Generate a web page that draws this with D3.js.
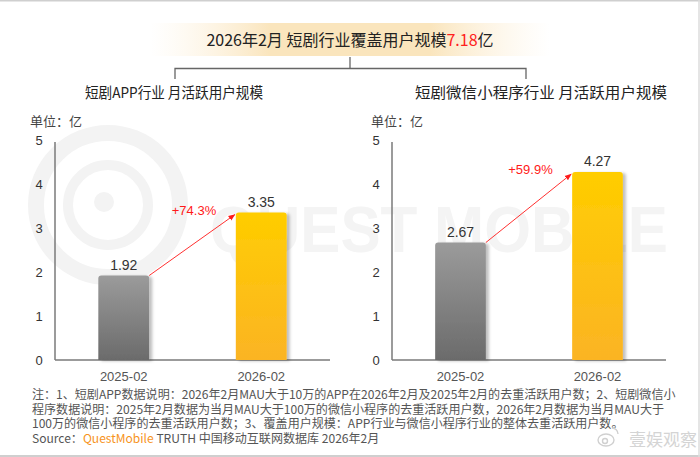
<!DOCTYPE html>
<html>
<head>
<meta charset="utf-8">
<script src="https://cdn.jsdelivr.net/npm/d3@7"></script>
<style>
  body { margin: 0; background: #fff; }
  svg { display: block; font-family: "Noto Sans CJK SC", "Liberation Sans", sans-serif; }
  .num { font-family: "Liberation Sans", Arial, sans-serif; }
</style>
</head>
<body>
<svg width="700" height="457"></svg>
<script>
// data
var categories = ["2025-02", "2026-02"];
var appValues = [1.92, 3.35];
var miniValues = [2.67, 4.27];
var growthLabels = ["+74.3%", "+59.9%"];
var yTicks = [0, 1, 2, 3, 4, 5];
var panelTitles = ["短剧APP行业 月活跃用户规模", "短剧微信小程序行业 月活跃用户规模"];
var footnotes = [
  "注：1、短剧APP数据说明：2026年2月MAU大于10万的APP在2026年2月及2025年2月的去重活跃用户数；2、短剧微信小",
  "程序数据说明：2025年2月数据为当月MAU大于100万的微信小程序的去重活跃用户数，2026年2月数据为当月MAU大于",
  "100万的微信小程序的去重活跃用户数；3、覆盖用户规模：APP行业与微信小程序行业的整体去重活跃用户数。"
];

var svg = d3.select("svg"),
  width = +svg.attr("width"),
  height = +svg.attr("height");

var defs = svg.append("defs");

// banner gradient
var bg = defs.append("linearGradient").attr("id", "banner");
bg.append("stop").attr("offset", "0%").attr("stop-color", "#fdf1dc").attr("stop-opacity", 0);
bg.append("stop").attr("offset", "30%").attr("stop-color", "#fae5bd").attr("stop-opacity", 1);
bg.append("stop").attr("offset", "70%").attr("stop-color", "#fae5bd").attr("stop-opacity", 1);
bg.append("stop").attr("offset", "100%").attr("stop-color", "#fdf1dc").attr("stop-opacity", 0);

var gGray = defs.append("linearGradient").attr("id", "grayBar")
  .attr("x1", 0).attr("y1", 0).attr("x2", 0).attr("y2", 1);
gGray.append("stop").attr("offset", "0%").attr("stop-color", "#9b9b9b");
gGray.append("stop").attr("offset", "100%").attr("stop-color", "#6b6b6b");

var gGold = defs.append("linearGradient").attr("id", "goldBar")
  .attr("x1", 0).attr("y1", 0).attr("x2", 0).attr("y2", 1);
gGold.append("stop").attr("offset", "0%").attr("stop-color", "#ffcd00");
gGold.append("stop").attr("offset", "100%").attr("stop-color", "#fbb424");

var shadow = defs.append("filter").attr("id", "shadow")
  .attr("x", "-20%").attr("y", "-20%").attr("width", "150%").attr("height", "140%");
shadow.append("feDropShadow").attr("dx", 3).attr("dy", 1).attr("stdDeviation", 1.5)
  .attr("flood-color", "#000").attr("flood-opacity", 0.25);

defs.append("marker")
  .attr("id", "arrow")
  .attr("viewBox", "0 0 10 10")
  .attr("refX", 9).attr("refY", 5)
  .attr("markerWidth", 7).attr("markerHeight", 7)
  .attr("orient", "auto")
  .append("path").attr("d", "M0,1 L10,5 L0,9 Z").attr("fill", "#ff1a1a");

// frame lines
svg.append("line").attr("x1", 0).attr("x2", width).attr("y1", 0.5).attr("y2", 0.5)
  .attr("stroke", "#cfcfcf").attr("stroke-width", 2);
svg.append("line").attr("x1", 0).attr("x2", width).attr("y1", 456).attr("y2", 456)
  .attr("stroke", "#cfcfcf").attr("stroke-width", 2);
svg.append("line").attr("x1", 699).attr("x2", 699).attr("y1", 0).attr("y2", height)
  .attr("stroke", "#dcdcdc").attr("stroke-width", 1.5);

// background watermark
var wm = svg.append("g").attr("fill", "none").attr("stroke", "#f3f3f3");
wm.append("circle").attr("cx", 108).attr("cy", 205).attr("r", 72).attr("stroke-width", 16);
wm.append("circle").attr("cx", 108).attr("cy", 205).attr("r", 40).attr("stroke-width", 10);
wm.append("circle").attr("cx", 104).attr("cy", 202).attr("r", 10).attr("fill", "#f3f3f3").attr("stroke", "none");
svg.append("text").attr("x", 210).attr("y", 252)
  .attr("class", "num")
  .attr("font-size", 64).attr("font-weight", "bold")
  .attr("fill", "#f4f4f4")
  .attr("textLength", 458).attr("lengthAdjust", "spacingAndGlyphs")
  .text("QUEST MOBILE");

// title banner
svg.append("rect").attr("x", 150).attr("y", 23).attr("width", 400).attr("height", 33)
  .attr("fill", "url(#banner)");
var title = svg.append("text").attr("x", 350).attr("y", 46)
  .attr("text-anchor", "middle").attr("font-size", 16).attr("fill", "#222");
title.append("tspan").text("2026年2月 短剧行业覆盖用户规模");
title.append("tspan").attr("fill", "#ff2020").text("7.18");
title.append("tspan").text("亿");

// bracket
var bracket = svg.append("g").attr("stroke", "#666").attr("stroke-width", 1.3).attr("fill", "none");
bracket.append("path").attr("d", "M175,79 V68.5 H526 V79");
bracket.append("path").attr("d", "M350,57 V68.5");

// panels
var panels = [
  { values: appValues, x0: 55, x1: 330, title: panelTitles[0], titleX: 85, titleW: 178, unitX: 30, tickX: 39, growth: growthLabels[0] },
  { values: miniValues, x0: 392, x1: 666, title: panelTitles[1], titleX: 415, titleW: 252, unitX: 371, tickX: 376, growth: growthLabels[1] }
];

var y = d3.scaleLinear().domain([0, 5]).range([360, 140]);

panels.forEach(function (p) {
  var g = svg.append("g");

  g.append("text").attr("x", p.titleX).attr("y", 98)
    .attr("font-size", 15).attr("fill", "#222")
    .attr("textLength", p.titleW).attr("lengthAdjust", "spacingAndGlyphs")
    .text(p.title);

  g.append("text").attr("x", p.unitX).attr("y", 126)
    .attr("font-size", 13).attr("fill", "#444")
    .text("单位：亿");

  var x = d3.scaleBand()
    .domain(categories)
    .range([p.x0, p.x1])
    .paddingInner(0.63)
    .paddingOuter(0.315);

  // y tick labels
  g.selectAll(".ytick")
    .data(yTicks)
    .enter().append("text")
    .attr("class", "num")
    .attr("x", p.tickX)
    .attr("y", function (d) { return y(d) + 5; })
    .attr("text-anchor", "middle")
    .attr("font-size", 13).attr("fill", "#333")
    .text(function (d) { return d; });

  // axes lines
  g.append("line").attr("x1", p.x0).attr("x2", p.x0).attr("y1", y(5) + 2).attr("y2", y(0))
    .attr("stroke", "#7a7a7a").attr("stroke-width", 1.5);
  g.append("line").attr("x1", p.x0).attr("x2", p.x1).attr("y1", y(0)).attr("y2", y(0))
    .attr("stroke", "#7a7a7a").attr("stroke-width", 1.5);

  // bars
  g.selectAll(".bar")
    .data(p.values)
    .enter().append("path")
    .attr("d", function (d, i) {
      var bx = x(categories[i]), bw = x.bandwidth(), by = y(d), r = 3;
      return "M" + bx + "," + y(0) + "V" + (by + r) + "Q" + bx + "," + by + " " + (bx + r) + "," + by +
        "H" + (bx + bw - r) + "Q" + (bx + bw) + "," + by + " " + (bx + bw) + "," + (by + r) + "V" + y(0) + "Z";
    })
    .attr("fill", function (d, i) { return i === 0 ? "url(#grayBar)" : "url(#goldBar)"; })
    .attr("filter", "url(#shadow)");

  // value labels
  g.selectAll(".val")
    .data(p.values)
    .enter().append("text")
    .attr("class", "num")
    .attr("x", function (d, i) { return x(categories[i]) + x.bandwidth() / 2; })
    .attr("y", function (d) { return y(d) - 6; })
    .attr("text-anchor", "middle")
    .attr("font-size", 14).attr("fill", "#333")
    .text(function (d) { return d.toFixed(2); });

  // category labels
  g.selectAll(".cat")
    .data(categories)
    .enter().append("text")
    .attr("class", "num")
    .attr("x", function (d) { return x(d) + x.bandwidth() / 2; })
    .attr("y", 381)
    .attr("text-anchor", "middle")
    .attr("font-size", 13).attr("fill", "#555")
    .text(function (d) { return d; });

  // growth arrow
  var ax1 = x(categories[0]) + x.bandwidth(), ay1 = y(p.values[0]);
  var ax2 = x(categories[1]) - 1, ay2 = y(p.values[1]) + 2;
  g.append("line")
    .attr("x1", ax1).attr("y1", ay1).attr("x2", ax2).attr("y2", ay2)
    .attr("stroke", "#ff3030").attr("stroke-width", 1)
    .attr("marker-end", "url(#arrow)");
  g.append("text").attr("class", "num")
    .attr("x", (ax1 + ax2) / 2 + 2)
    .attr("y", y(p.values[1]) + 2)
    .attr("text-anchor", "middle")
    .attr("font-size", 13).attr("fill", "#ff1a1a")
    .text(p.growth);
});

// footnotes
svg.selectAll(".foot")
  .data(footnotes)
  .enter().append("text")
  .attr("x", 32)
  .attr("y", function (d, i) { return 399 + i * 14.5; })
  .attr("font-size", 12.05).attr("fill", "#555")
  .text(function (d) { return d; });

var src = svg.append("text").attr("x", 32).attr("y", 442.5)
  .attr("font-size", 12.05).attr("fill", "#555");
src.append("tspan").text("Source：");
src.append("tspan").attr("fill", "#f7941d").text("QuestMobile");
src.append("tspan").text(" TRUTH 中国移动互联网数据库 2026年2月");

// weibo watermark
svg.append("text").attr("x", 697).attr("y", 446)
  .attr("text-anchor", "end")
  .attr("font-size", 17).attr("fill", "#d4d4d4")
  .text("壹娱观察");
var wb = svg.append("g").attr("fill", "none").attr("stroke", "#d0d0d0").attr("stroke-width", 1.4);
wb.append("ellipse").attr("cx", 606).attr("cy", 440).attr("rx", 8).attr("ry", 6);
wb.append("circle").attr("cx", 605).attr("cy", 441).attr("r", 2.5);
wb.append("path").attr("d", "M612,428 a6,6 0 0 1 6,6");
</script>
</body>
</html>
